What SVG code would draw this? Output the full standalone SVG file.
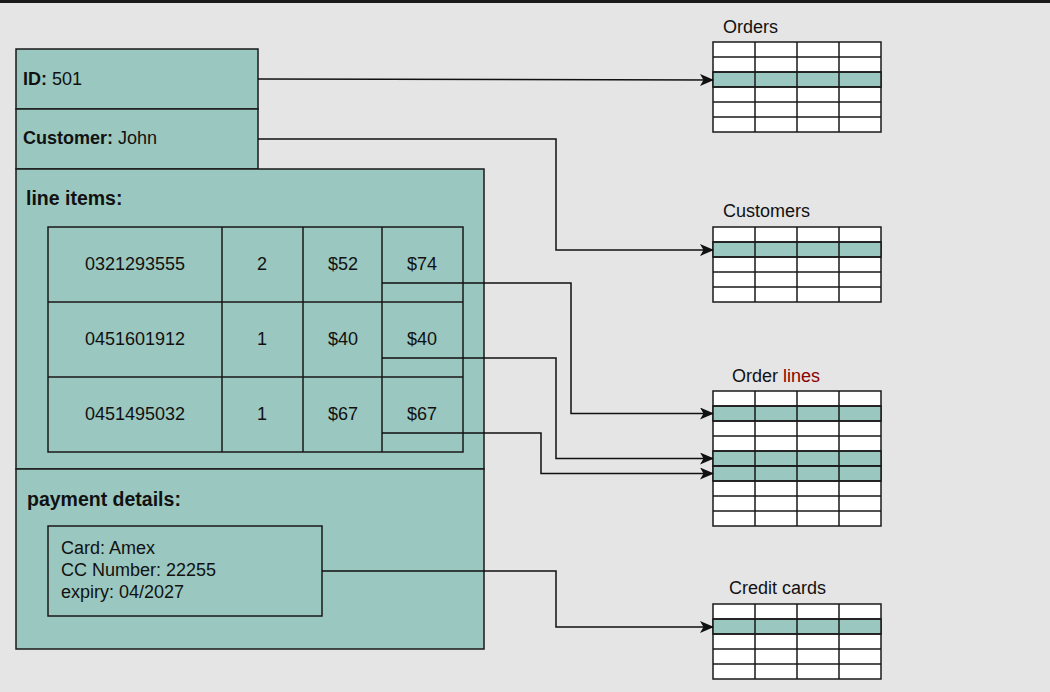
<svg xmlns="http://www.w3.org/2000/svg" width="1050" height="692" viewBox="0 0 1050 692">
<defs>
<style>
.box{fill:#9ac7bf;stroke:#1a1a1a;stroke-width:1.5}
.t{font-family:"Liberation Sans",Arial,sans-serif;font-size:18px;fill:#111}
.b{font-weight:bold}
.h{font-family:"Liberation Sans",Arial,sans-serif;font-size:19.5px;font-weight:bold;fill:#111}
.c{text-anchor:middle}
.grid{fill:#fff;stroke:#1a1a1a;stroke-width:1.5}
.hl{fill:#9ac7bf;stroke:#1a1a1a;stroke-width:1.5}
.ln{fill:none;stroke:#1a1a1a;stroke-width:1.5}
.conn{fill:none;stroke:#111;stroke-width:1.5;marker-end:url(#arr)}
</style>
<marker id="arr" viewBox="0 0 14 12" refX="13" refY="6" markerWidth="14" markerHeight="12" markerUnits="userSpaceOnUse" orient="auto">
<path d="M0,0 L14,6 L0,12 L3.5,6 Z" fill="#111"/>
</marker>
</defs>
<rect x="0" y="0" width="1050" height="692" fill="#e5e5e5"/>
<rect x="0" y="0" width="1050" height="3" fill="#1a1a1a"/>

<g id="order-id">
<rect class="box" x="16" y="49" width="242" height="60"/>
<text class="t" x="23" y="84.5"><tspan class="b">ID:</tspan> 501</text>
</g>
<g id="order-customer">
<rect class="box" x="16" y="109" width="242" height="60"/>
<text class="t" x="23" y="144"><tspan class="b">Customer:</tspan> John</text>
</g>
<g id="line-items">
<rect class="box" x="16" y="169" width="468" height="300"/>
<text class="h" x="26" y="205">line items:</text>
<rect class="box" x="48" y="227" width="415" height="225"/>
<path class="ln" d="M48,302H463M48,377H463M222,227V452M303,227V452M382,227V452"/>
<text class="t c" x="135" y="270">0321293555</text>
<text class="t c" x="262" y="270">2</text>
<text class="t c" x="343" y="270">$52</text>
<text class="t c" x="422" y="270">$74</text>
<text class="t c" x="135" y="345">0451601912</text>
<text class="t c" x="262" y="345">1</text>
<text class="t c" x="343" y="345">$40</text>
<text class="t c" x="422" y="345">$40</text>
<text class="t c" x="135" y="420">0451495032</text>
<text class="t c" x="262" y="420">1</text>
<text class="t c" x="343" y="420">$67</text>
<text class="t c" x="422" y="420">$67</text>
</g>
<g id="payment">
<rect class="box" x="16" y="469" width="468" height="180"/>
<text class="h" x="27" y="505.5">payment details:</text>
<rect class="box" x="48" y="526" width="274" height="90"/>
<text class="t" x="61" y="554">Card: Amex</text>
<text class="t" x="61" y="576">CC Number: 22255</text>
<text class="t" x="61" y="598">expiry: 04/2027</text>
</g>

<g id="orders-table">
<text class="t" x="723" y="33">Orders</text>
<rect class="grid" x="713" y="42" width="168" height="90"/>
<rect class="hl" x="713" y="72" width="168" height="15"/>
<path class="ln" d="M713,57H881M713,72H881M713,87H881M713,102H881M713,117H881M755,42V132M797,42V132M839,42V132"/>
</g>
<g id="customers-table">
<text class="t" x="723" y="216.5">Customers</text>
<rect class="grid" x="713" y="227" width="168" height="75"/>
<rect class="hl" x="713" y="242" width="168" height="15"/>
<path class="ln" d="M713,242H881M713,257H881M713,272H881M713,287H881M755,227V302M797,227V302M839,227V302"/>
</g>
<g id="order-lines-table">
<text class="t" x="732" y="381.5">Order <tspan fill="#8b0000">lines</tspan></text>
<rect class="grid" x="713" y="391" width="168" height="135"/>
<rect class="hl" x="713" y="406" width="168" height="15"/>
<rect class="hl" x="713" y="451" width="168" height="15"/>
<rect class="hl" x="713" y="466" width="168" height="15"/>
<path class="ln" d="M713,406H881M713,421H881M713,436H881M713,451H881M713,466H881M713,481H881M713,496H881M713,511H881M755,391V526M797,391V526M839,391V526"/>
</g>
<g id="credit-cards-table">
<text class="t" x="729" y="594">Credit cards</text>
<rect class="grid" x="713" y="604" width="168" height="75"/>
<rect class="hl" x="713" y="619" width="168" height="15"/>
<path class="ln" d="M713,619H881M713,634H881M713,649H881M713,664H881M755,604V679M797,604V679M839,604V679"/>
</g>

<g id="connectors">
<path class="conn" d="M258,79L713,80"/>
<path class="conn" d="M258,139H556V250H713"/>
<path class="conn" d="M382,283L463,283L571,283V413.5H713"/>
<path class="conn" d="M382,358L463,358L556,358V458.5H713"/>
<path class="conn" d="M382,433L463,433L541,433V473.5H713"/>
<path class="conn" d="M322,571H556V627H713"/>
</g>
</svg>
